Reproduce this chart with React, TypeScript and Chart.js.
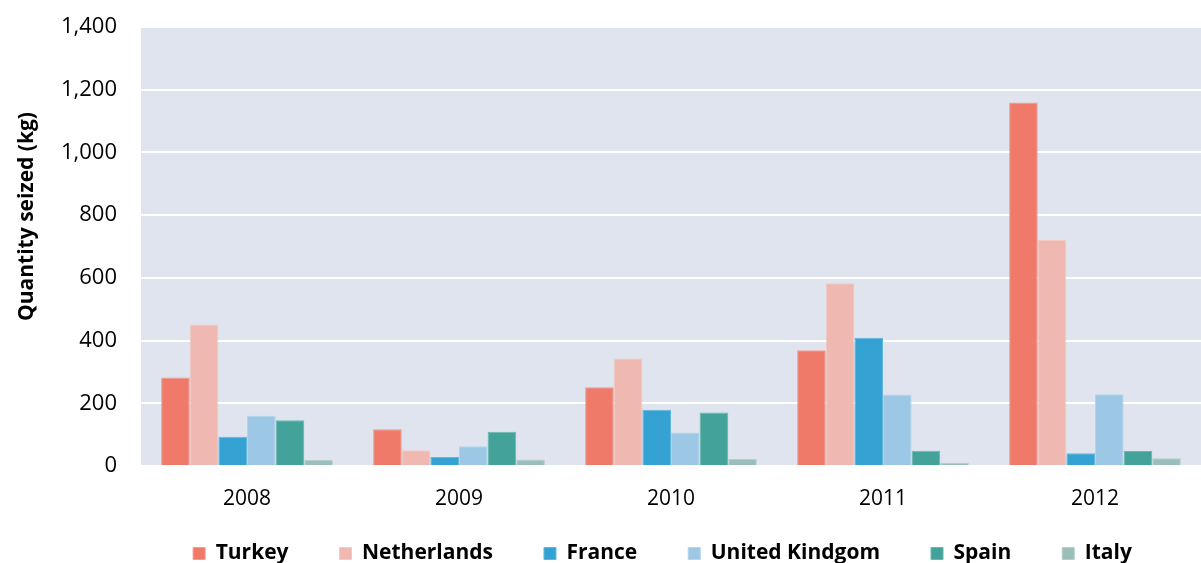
import React, { useEffect, useRef } from "react";
import { Chart, registerables } from "chart.js";

Chart.register(...registerables);

const years = ["2008", "2009", "2010", "2011", "2012"];
const turkey = [282, 117, 251, 369, 1159];
const netherlands = [451, 50, 343, 583, 721];
const france = [93, 29, 179, 409, 41];
const unitedKingdom = [160, 63, 107, 228, 229];
const spain = [146, 109, 171, 49, 48];
const italy = [19, 21, 22, 10, 25];

const seriesNames = ["Turkey", "Netherlands", "France", "United Kindgom", "Spain", "Italy"];
const seriesColors = ["#F07A6A", "#EFB9B2", "#35A2D4", "#9DC8E5", "#43A39A", "#9ABFBA"];
const seriesBorders = ["#F29A8C", "#F2C9C3", "#62B6DD", "#B3D4EB", "#6BB6AE", "#B3CFCB"];
const yTicks = [0, 200, 400, 600, 800, 1000, 1200, 1400];

const plotBg = {
  id: "plotBg",
  beforeDraw(chart: any) {
    const { ctx, chartArea } = chart;
    ctx.save();
    ctx.fillStyle = "#DFE4EF";
    ctx.fillRect(chartArea.left, chartArea.top, chartArea.right - chartArea.left, chartArea.bottom - chartArea.top);
    ctx.restore();
  },
};

const legendFix = {
  id: "legendFix",
  beforeLayout(chart: any) {
    const l = chart.legend;
    if (l && !l.__patched) {
      const orig = l.fit.bind(l);
      l.fit = () => {
        orig();
        l.height = 25;
      };
      l.__patched = true;
    }
  },
  afterLayout(chart: any) {
    const l = chart.legend;
    if (l) {
      l.left += 62;
      l.right += 62;
      l.top = 492;
      l.bottom = chart.height;
      l.height = l.bottom - l.top;
    }
  },
};

export default function App() {
  const ref = useRef<HTMLCanvasElement | null>(null);
  useEffect(() => {
    if (!ref.current) return;
    const all = [turkey, netherlands, france, unitedKingdom, spain, italy];
    const chart = new Chart(ref.current, {
      type: "bar",
      data: {
        labels: years,
        datasets: all.map((d, i) => ({
          label: seriesNames[i],
          data: d,
          backgroundColor: seriesColors[i],
          borderColor: seriesBorders[i],
          borderWidth: 1,
          barPercentage: 1,
          categoryPercentage: 0.81,
        })),
      },
      options: {
        animation: false,
        responsive: false,
        maintainAspectRatio: false,
        layout: { padding: { top: 27, right: 0, bottom: 0, left: 0 } },
        plugins: {
          tooltip: { enabled: false },
          legend: {
            position: "bottom",
            labels: {
              font: { family: "Open Sans", size: 21, weight: "bold" },
              color: "#000000",
              boxWidth: 12,
              boxHeight: 12,
              padding: 51,
            },
          } as any,
        },
        scales: {
          x: {
            grid: { display: false, drawTicks: false },
            border: { display: false },
            ticks: { font: { family: "Open Sans", size: 21 }, color: "#000000", padding: 20 },
            afterFit(scale: any) {
              scale.height = 72;
              scale.paddingLeft = 0;
              scale.paddingRight = 0;
            },
          },
          y: {
            min: 0,
            max: 1400,
            afterBuildTicks(scale: any) {
              scale.ticks = yTicks.map((v) => ({ value: v }));
            },
            grid: { color: "#FFFFFF", lineWidth: 2, drawTicks: false },
            border: { display: false },
            ticks: {
              font: { family: "Open Sans", size: 22 },
              color: "#000000",
              padding: 24,
              callback: (v: any) => Number(v).toLocaleString("en-US"),
            },
            title: {
              display: true,
              text: "           Quantity seized (kg)",
              font: { family: "Open Sans", size: 21, weight: "bold" },
              color: "#000000",
              padding: { top: 14, bottom: 0 },
            },
            afterFit(scale: any) {
              scale.width = 141;
              scale.paddingTop = 0;
              scale.paddingBottom = 0;
            },
          },
        },
      },
      plugins: [plotBg, legendFix],
    });
    return () => chart.destroy();
  }, []);
  return (
    <div style={{ position: "fixed", left: 0, top: 0, width: 1201, height: 563, background: "#fff" }}>
      <canvas ref={ref} width={1201} height={563} style={{ display: "block" }} />
    </div>
  );
}
